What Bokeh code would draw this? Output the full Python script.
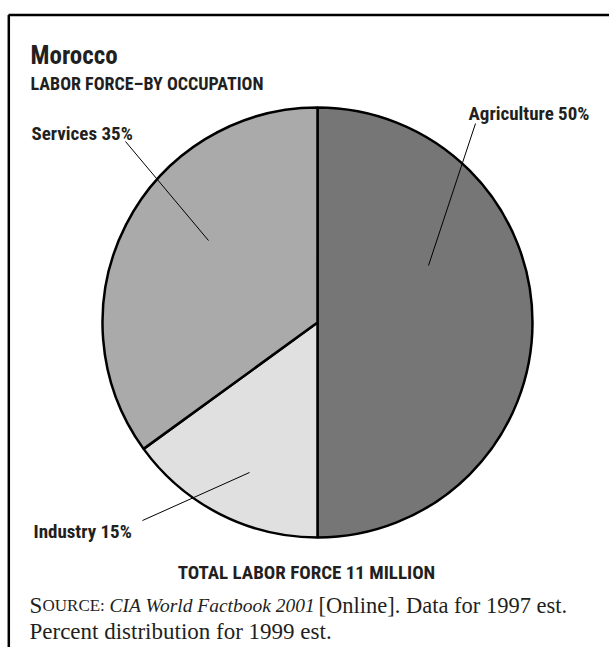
import math
from bokeh.plotting import figure
from bokeh.models import Range1d, ColumnDataSource
from bokeh.core.properties import value
from bokeh.embed import file_html
from bokeh.resources import INLINE

# ---- data ----
categories = ["Agriculture", "Industry", "Services"]
shares = [50, 15, 35]
colors = ["#767676", "#e0e0e0", "#aaaaaa"]
title = "Morocco"
subtitle = "LABOR FORCE\u2013BY OCCUPATION"
total_note = "TOTAL LABOR FORCE 11 MILLION"

# ---- layout helpers (reference pixel -> plot coordinates) ----
W, H = 609, 647
def X(px):
    return px
def Y(py):
    return H - py

COND = value("Roboto Condensed, Liberation Sans Narrow, Roboto, sans-serif")
SERIF = value("Liberation Serif")
INK = "#231f20"

p = figure(width=W, height=H, x_range=Range1d(0, W), y_range=Range1d(0, H),
           output_backend="svg", toolbar_location=None, min_border=0)
p.axis.visible = False
p.grid.visible = False
p.outline_line_color = None
p.background_fill_color = "white"
p.border_fill_color = "white"

# frame lines (top and left)
p.segment(x0=[X(8), X(8.3)], y0=[Y(14.5), Y(14.5)], x1=[X(620), X(8.3)], y1=[Y(14.5), Y(660)],
          line_color="black", line_width=2.5)

# ---- pie ----
cx, cy, R = X(317), Y(322), 215
total = sum(shares)
starts, ends = [], []
cum = 0.0
for s in shares:
    a0 = math.pi / 2 - 2 * math.pi * cum / total
    cum += s
    a1 = math.pi / 2 - 2 * math.pi * cum / total
    starts.append(a1)
    ends.append(a0)
src = ColumnDataSource(dict(cat=categories, share=shares, color=colors, start=starts, end=ends))
p.wedge(x=cx, y=cy, radius=R, start_angle="start", end_angle="end", fill_color="color",
        line_color="black", line_width=2.5, source=src)

# ---- leader lines ----
p.segment(x0=[X(475), X(125), X(142)], y0=[Y(123), Y(141), Y(520)],
          x1=[X(428), X(208), X(249)], y1=[Y(265), Y(240), Y(472)],
          line_color="black", line_width=1)

# ---- slice labels ----
labels = [f"{c} {s}%" for c, s in zip(categories, shares)]
p.text(x=[X(468), X(33), X(31)], y=[Y(113), Y(531), Y(133)], text=labels,
       text_font=COND, text_font_style="bold", text_font_size="19px",
       text_color=INK, text_baseline="alphabetic", text_align="left")

# ---- titles ----
p.text(x=[X(30)], y=[Y(55)], text=[title], text_font=COND, text_font_style="bold",
       text_font_size="25px", text_color=INK, text_baseline="alphabetic")
p.text(x=[X(30)], y=[Y(83)], text=[subtitle], text_font=COND, text_font_style="bold",
       text_font_size="18px", text_color=INK, text_baseline="alphabetic")
p.text(x=[X(306)], y=[Y(572)], text=[total_note], text_font=COND, text_font_style="bold",
       text_font_size="19px", text_color=INK, text_baseline="alphabetic", text_align="center")

# ---- source note ----
p.text(x=[X(29)], y=[Y(605)], text=["S"], text_font=SERIF, text_font_size="23px",
       text_color=INK, text_baseline="alphabetic")
p.text(x=[X(42)], y=[Y(605)], text=["OURCE:"], text_font=SERIF, text_font_size="17px",
       text_color=INK, text_baseline="alphabetic")
p.text(x=[X(109)], y=[Y(605)], text=["CIA World Factbook 2001"], text_font=SERIF,
       text_font_style="italic", text_font_size="19.5px", text_color=INK, text_baseline="alphabetic")
p.text(x=[X(318)], y=[Y(605)], text=["[Online]. Data for 1997 est."], text_font=SERIF,
       text_font_size="22.5px", text_color=INK, text_baseline="alphabetic")
p.text(x=[X(29)], y=[Y(631)], text=["Percent distribution for 1999 est."], text_font=SERIF,
       text_font_size="23px", text_color=INK, text_baseline="alphabetic")

open("out.html", "w").write(file_html(p, INLINE))
